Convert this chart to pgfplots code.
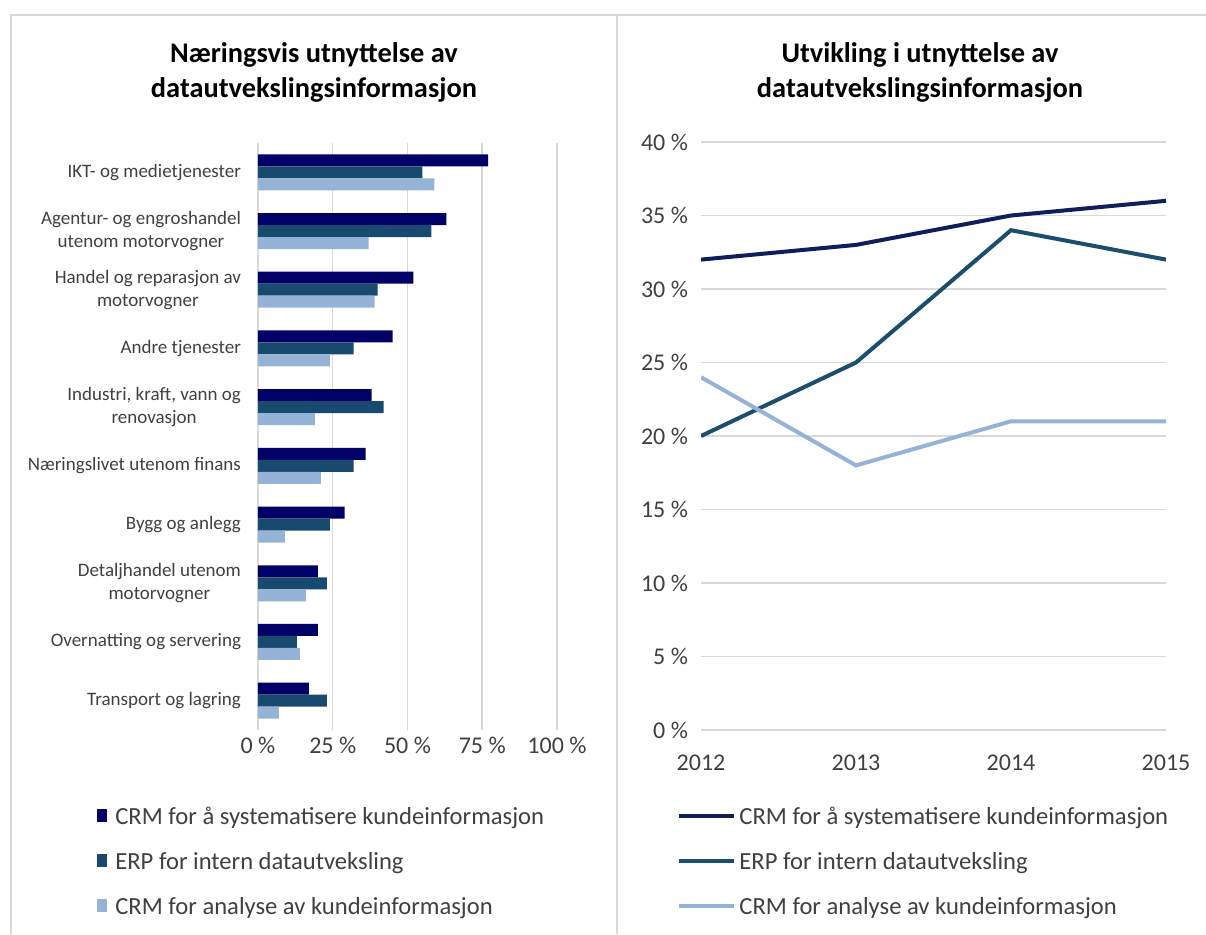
\documentclass[border=0pt]{standalone}
\usepackage{fontspec}
\setmainfont{Carlito}
\usepackage{pgfplots}
\pgfplotsset{compat=1.18}

\definecolor{barA}{HTML}{000066}
\definecolor{barB}{HTML}{174A6E}
\definecolor{barC}{HTML}{95B3D7}
\definecolor{lineA}{HTML}{0E1F5B}
\definecolor{lineB}{HTML}{1B4D6E}
\definecolor{lineC}{HTML}{95B3D7}
\definecolor{gridc}{HTML}{D9D9D9}
\definecolor{txt}{HTML}{404040}

\begin{document}
\begin{tikzpicture}
\useasboundingbox (0,0) rectangle (603pt,467pt);
\draw[gridc, line width=1pt] (5.5pt,0) -- (5.5pt,459.5pt) -- (603pt,459.5pt);
\draw[gridc, line width=1pt] (308.5pt,0) -- (308.5pt,459.5pt);

\node[align=center, font=\fontsize{14.2}{17.5}\selectfont\bfseries] at (157pt,430.75pt) {Næringsvis utnyttelse av\\datautvekslingsinformasjon};
\node[align=center, font=\fontsize{14.2}{17.5}\selectfont\bfseries] at (460pt,430.75pt) {Utvikling i utnyttelse av\\datautvekslingsinformasjon};

\begin{axis}[
  at={(129pt,102pt)}, anchor=south west,
  scale only axis, width=149.5pt, height=293.5pt,
  xbar, bar width=6pt,
  xmin=0, xmax=100, ymin=-0.5, ymax=9.5,
  xtick={0,25,50,75,100}, xticklabels={0 \%,25 \%,50 \%,75 \%,100 \%},
  ytick={0,...,9},
  yticklabels={{Transport og lagring},{Overnatting og servering},{Detaljhandel utenom\\motorvogner},{Bygg og anlegg},{Næringslivet utenom finans},{Industri, kraft, vann og\\renovasjon},{Andre tjenester},{Handel og reparasjon av\\motorvogner},{Agentur- og engroshandel\\utenom motorvogner},{IKT- og medietjenester}},
  axis line style={draw=none}, major tick length=0pt,
  xmajorgrids, grid style={gridc, line width=0.75pt},
  ticklabel style={text=txt},
  xticklabel style={font=\fontsize{12}{14}\selectfont},
  yticklabel style={font=\fontsize{9.5}{11.5}\selectfont, align=center, xshift=-5pt},
  legend cell align=left,
  legend style={at={(-0.5385,-0.1291)}, anchor=north west, draw=none, fill=none,
    inner sep=0pt, font=\fontsize{12.3}{14}\selectfont, text=txt,
    nodes={inner sep=0pt, text height=9pt, text depth=3pt},
    row sep=10.5pt, column sep=4.25pt},
  legend image code/.code={\fill[#1] (0pt,-2pt) rectangle (4.75pt,4.5pt);},
]
\addplot[fill=barA, draw=none, bar shift=6pt] coordinates {(17,0) (20,1) (20,2) (29,3) (36,4) (38,5) (45,6) (52,7) (63,8) (77,9)};
\addlegendentry{CRM for å systematisere kundeinformasjon}
\addplot[fill=barB, draw=none, bar shift=0pt] coordinates {(23,0) (13,1) (23,2) (24,3) (32,4) (42,5) (32,6) (40,7) (58,8) (55,9)};
\addlegendentry{ERP for intern datautveksling}
\addplot[fill=barC, draw=none, bar shift=-6pt] coordinates {(7,0) (14,1) (16,2) (9,3) (21,4) (19,5) (24,6) (39,7) (37,8) (59,9)};
\addlegendentry{CRM for analyse av kundeinformasjon}
\end{axis}

\begin{axis}[
  at={(350.5pt,102pt)}, anchor=south west,
  scale only axis, width=232.5pt, height=294pt,
  xmin=2012, xmax=2015, ymin=0, ymax=40,
  xtick={2012,2013,2014,2015}, xticklabels={2012,2013,2014,2015},
  ytick={0,5,10,15,20,25,30,35,40},
  yticklabels={0 \%,5 \%,10 \%,15 \%,20 \%,25 \%,30 \%,35 \%,40 \%},
  axis line style={draw=none}, major tick length=0pt,
  ymajorgrids, grid style={gridc, line width=0.75pt},
  ticklabel style={text=txt, font=\fontsize{12}{14}\selectfont},
  xticklabel style={yshift=-9pt},
  yticklabel style={xshift=-3pt},
  legend cell align=left,
  legend style={at={(-0.0515,-0.1291)}, anchor=north west, draw=none, fill=none,
    inner sep=0pt, font=\fontsize{12.3}{14}\selectfont, text=txt,
    nodes={inner sep=0pt, text height=9pt, text depth=3pt},
    row sep=10.5pt, column sep=1.5pt},
  legend image code/.code={\draw[#1] (0pt,1.2pt) -- (27.5pt,1.2pt);},
]
\addplot[lineA, line width=2pt] coordinates {(2012,32) (2013,33) (2014,35) (2015,36)};
\addlegendentry{CRM for å systematisere kundeinformasjon}
\addplot[lineB, line width=2pt] coordinates {(2012,20) (2013,25) (2014,34) (2015,32)};
\addlegendentry{ERP for intern datautveksling}
\addplot[lineC, line width=2pt] coordinates {(2012,24) (2013,18) (2014,21) (2015,21)};
\addlegendentry{CRM for analyse av kundeinformasjon}
\end{axis}
\end{tikzpicture}
\end{document}
